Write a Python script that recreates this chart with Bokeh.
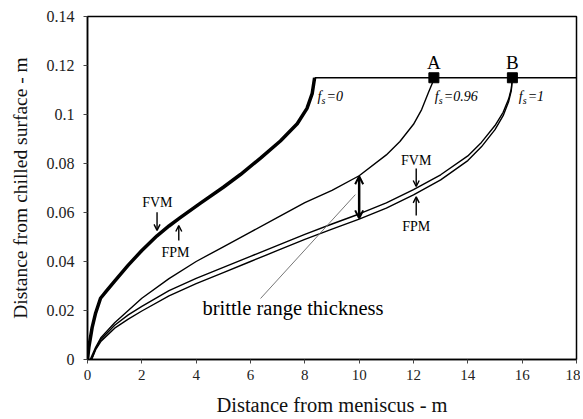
from bokeh.plotting import figure
from bokeh.models import Range1d, FixedTicker, CustomJSTickFormatter, Arrow, OpenHead
from bokeh.core.properties import value
from bokeh.embed import file_html
from bokeh.resources import INLINE

# ---- data ----
x_fs0 = [0, 0.05, 0.17, 0.3, 0.48, 0.7, 1, 1.5, 2, 2.56, 3, 3.4, 4.16, 5, 5.63, 6.37, 7.1, 7.72, 8.08, 8.27, 8.36]
y_fs0 = [0, 0.005, 0.013, 0.019, 0.025, 0.028, 0.032, 0.0385, 0.0445, 0.0505, 0.0545, 0.0578, 0.0638, 0.0703, 0.0755, 0.0822, 0.0892, 0.0962, 0.1025, 0.1085, 0.115]

x_fs096 = [0.1, 0.3, 0.5, 1, 1.5, 2, 3, 4, 5, 6, 7, 8, 9, 10, 11, 11.5, 12, 12.3, 12.55, 12.7, 12.75]
y_fs096 = [0, 0.005, 0.009, 0.015, 0.020, 0.025, 0.033, 0.040, 0.046, 0.052, 0.058, 0.064, 0.069, 0.075, 0.0835, 0.089, 0.096, 0.102, 0.109, 0.113, 0.115]

x_fs1 = [0.15, 0.3, 0.5, 1, 1.5, 2, 3, 4, 5, 6, 7, 8, 9, 10, 11, 12, 13, 14, 14.5, 15, 15.3, 15.5, 15.6, 15.64]
y_fs1_fvm = [0, 0.0044, 0.0083, 0.0140, 0.0182, 0.0217, 0.0281, 0.0331, 0.0376, 0.0421, 0.0466, 0.0511, 0.0553,
             0.0594, 0.0639, 0.0693, 0.0754, 0.0831, 0.0886, 0.0955, 0.1009, 0.1063, 0.1104, 0.115]
y_fs1_fpm = [0, 0.004, 0.0075, 0.0128, 0.0165, 0.0198, 0.026, 0.031, 0.0355, 0.04, 0.0445, 0.049, 0.0532,
             0.0573, 0.0618, 0.0672, 0.0733, 0.0812, 0.0868, 0.0938, 0.0995, 0.1052, 0.1098, 0.115]

top_line_x = [8.36, 18]
top_line_y = [0.115, 0.115]

point_names = ["A", "B"]
point_x = [12.75, 15.64]
point_y = [0.115, 0.115]

x_ticks = [0, 2, 4, 6, 8, 10, 12, 14, 16, 18]
y_ticks = [0, 0.02, 0.04, 0.06, 0.08, 0.1, 0.12, 0.14]

SERIF = "Liberation Serif"

p = figure(width=580, height=416, output_backend="svg", toolbar_location=None,
           x_range=Range1d(0, 18), y_range=Range1d(0, 0.14),
           min_border_left=87, min_border_right=4, min_border_top=16, min_border_bottom=57)
p.frame_width = 489
p.frame_height = 343
p.background_fill_color = "white"
p.border_fill_color = "white"
p.outline_line_color = "black"
p.outline_line_width = 1.5
p.grid.visible = False

p.xaxis.ticker = FixedTicker(ticks=x_ticks)
p.yaxis.ticker = FixedTicker(ticks=y_ticks)
p.yaxis.formatter = CustomJSTickFormatter(code="return String(+tick.toFixed(2));")
p.xaxis.formatter = CustomJSTickFormatter(code="return String(+tick.toFixed(0));")
for ax in (p.xaxis[0], p.yaxis[0]):
    ax.axis_line_color = "black"
    ax.axis_line_width = 1.5
    ax.major_tick_line_color = "#444444"
    ax.major_tick_out = 4
    ax.major_tick_in = 0
    ax.minor_tick_line_color = None
    ax.major_label_text_font = SERIF
    ax.major_label_text_color = "#222222"
    ax.axis_label_text_font = SERIF
    ax.axis_label_text_font_style = "normal"
    ax.axis_label_text_color = "#111111"
p.xaxis.major_label_text_font_size = "15px"
p.yaxis.major_label_text_font_size = "16px"
p.xaxis.axis_label_text_font_size = "20.5px"
p.yaxis.axis_label_text_font_size = "19.5px"
p.xaxis.axis_label = "Distance from meniscus - m"
p.yaxis.axis_label = "Distance from chilled surface - m"
p.xaxis.major_label_standoff = 6
p.yaxis.major_label_standoff = 9
p.xaxis.axis_label_standoff = 11
p.yaxis.axis_label_standoff = 13

# curves
p.line(x_fs0, y_fs0, line_color="black", line_width=3.5, line_join="round")
p.line(x_fs096, y_fs096, line_color="black", line_width=1.4, line_join="round")
p.line(x_fs1, y_fs1_fvm, line_color="black", line_width=1.4, line_join="round")
p.line(x_fs1, y_fs1_fpm, line_color="black", line_width=1.4, line_join="round")
p.line(top_line_x, top_line_y, line_color="black", line_width=1.6)
p.scatter(point_x, point_y, marker="square", size=10, fill_color="black", line_color="black")

# A / B labels
p.text(point_x, [0.1213, 0.1213], text=point_names, text_font=value(SERIF), text_font_size="19px",
       text_align="center", text_baseline="middle", text_color="black")

# f_s labels
fs_x = [8.47, 12.78, 15.87]
fs_rest = ["=0", "=0.96", "=1"]
fs_y = [0.1073, 0.1073, 0.1073]
p.text(fs_x, fs_y, text=["f", "f", "f"], text_font=value(SERIF), text_font_size="14px",
       text_font_style="italic", text_baseline="middle", text_color="black")
p.text(fs_x, fs_y, text=["s", "s", "s"], text_font=value(SERIF), text_font_size="10px",
       text_font_style="italic", text_baseline="middle", text_color="black", x_offset=4, y_offset=4)
p.text(fs_x, fs_y, text=fs_rest, text_font=value(SERIF), text_font_size="14px",
       text_font_style="italic", text_baseline="middle", text_color="black", x_offset=9)

# FVM / FPM labels
lab_x = [2.57, 3.24, 12.1, 12.1]
lab_y = [0.0642, 0.0438, 0.0812, 0.0543]
lab_t = ["FVM", "FPM", "FVM", "FPM"]
p.text(lab_x, lab_y, text=lab_t, text_font=value(SERIF), text_font_size="14px",
       text_align="center", text_baseline="middle", text_color="black")

# small arrows
arrows = [(2.56, 0.0601, 2.56, 0.0527), (3.36, 0.0486, 3.36, 0.0547),
          (12.1, 0.078, 12.1, 0.0706), (12.1, 0.0588, 12.1, 0.0664)]
for xs, ys, xe, ye in arrows:
    p.add_layout(Arrow(x_start=xs, y_start=ys, x_end=xe, y_end=ye, line_width=1.4, line_color="black",
                       end=OpenHead(size=6, line_width=1.4, line_color="black")))

# brittle range thickness double arrow
p.add_layout(Arrow(x_start=10, y_start=0.0576, x_end=10, y_end=0.0748, line_width=2.5, line_color="black",
                   start=OpenHead(size=8, line_width=2, line_color="black"),
                   end=OpenHead(size=8, line_width=2, line_color="black")))

# pointer line and label
p.line([6.37, 9.86], [0.0249, 0.0673], line_color="#777777", line_width=1)
p.text([4.23], [0.0212], text=["brittle range thickness"], text_font=value(SERIF), text_font_size="20.5px",
       text_baseline="middle", text_color="black")

open("out.html", "w").write(file_html(p, INLINE))
